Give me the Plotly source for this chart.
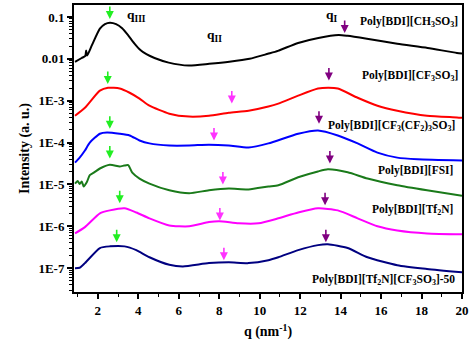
import numpy as np
import plotly.graph_objects as go

# ---- data (q in nm^-1, log10 intensity) ----
q_ch3 = [0.87, 1.2, 1.38, 1.42, 1.47, 1.7, 2.1, 2.35, 2.6, 2.9, 3.2, 3.5, 3.8, 4.1, 4.4, 4.8, 5.5, 6.5, 7.5, 8.5, 9.5, 10.4, 10.9, 11.9, 12.9, 13.9, 14.35, 15.3, 16.8, 18.3, 19.75, 20.0]
li_ch3 = [-2.07, -1.98, -1.93, -1.80, -1.92, -1.68, -1.28, -1.17, -1.136, -1.17, -1.27, -1.44, -1.63, -1.79, -1.89, -1.98, -2.09, -2.16, -2.12, -2.07, -2.00, -1.88, -1.81, -1.62, -1.50, -1.43, -1.45, -1.52, -1.64, -1.74, -1.86, -1.87]

q_cf3 = [0.87, 1.36, 2.1, 2.5, 3.08, 3.57, 4.06, 4.55, 5.53, 6.51, 7.49, 8.47, 9.45, 10.43, 10.92, 11.9, 12.88, 13.4, 13.86, 14.84, 15.82, 16.8, 18.27, 19.75, 20.0]
li_cf3 = [-3.36, -3.17, -2.76, -2.69, -2.71, -2.81, -2.95, -3.12, -3.31, -3.38, -3.36, -3.29, -3.24, -3.14, -3.07, -2.88, -2.71, -2.69, -2.71, -2.93, -3.12, -3.24, -3.36, -3.40, -3.41]

q_cf3cf2 = [0.87, 1.1, 1.36, 1.6, 2.1, 2.45, 3.08, 3.57, 4.06, 4.55, 5.53, 6.51, 7.49, 8.47, 9.45, 10.43, 11.9, 12.88, 13.86, 14.84, 15.82, 16.8, 17.8, 20.0]
li_cf3cf2 = [-4.48, -4.36, -4.19, -4.0, -3.79, -3.76, -3.79, -3.83, -3.95, -4.02, -4.07, -4.07, -4.05, -4.07, -4.12, -4.02, -3.79, -3.71, -3.83, -4.02, -4.24, -4.36, -4.40, -4.43]

q_fsi = [0.87, 1.0, 1.1, 1.2, 1.3, 1.45, 1.6, 1.8, 2.1, 2.59, 3.08, 3.3, 3.5, 3.7, 4.06, 4.55, 5.53, 6.51, 7.49, 8.47, 9.45, 10.43, 10.92, 11.9, 12.88, 13.37, 14.35, 15.33, 16.8, 18.27, 20.0]
li_fsi = [-4.98, -4.92, -4.99, -4.93, -5.05, -4.95, -4.78, -4.72, -4.62, -4.53, -4.57, -4.55, -4.54, -4.72, -4.86, -4.98, -5.14, -5.21, -5.14, -5.10, -5.12, -5.05, -5.02, -4.83, -4.69, -4.64, -4.71, -4.86, -5.02, -5.14, -5.27]

q_tf2n = [0.87, 1.36, 2.1, 2.59, 3.32, 3.9, 4.55, 5.53, 6.51, 7.49, 8.0, 8.96, 9.94, 10.92, 11.9, 12.88, 13.86, 14.84, 15.82, 16.8, 18.27, 20.0]
li_tf2n = [-6.17, -6.02, -5.69, -5.62, -5.57, -5.67, -5.81, -5.98, -6.00, -5.90, -5.88, -5.93, -5.93, -5.81, -5.67, -5.57, -5.62, -5.81, -6.00, -6.10, -6.17, -6.19]

q_mix = [0.87, 1.1, 1.36, 2.1, 2.59, 3.32, 3.9, 4.55, 5.53, 6.2, 7.49, 8.47, 9.45, 10.43, 10.92, 11.9, 12.88, 13.37, 14.35, 15.33, 16.8, 18.27, 20.0]
li_mix = [-7.0, -6.99, -6.88, -6.52, -6.48, -6.48, -6.57, -6.74, -6.92, -6.96, -6.88, -6.86, -6.88, -6.81, -6.74, -6.57, -6.45, -6.43, -6.52, -6.74, -6.93, -7.02, -7.10]

series_names = ["Poly[BDI][CH3SO3]", "Poly[BDI][CF3SO3]", "Poly[BDI][CF3(CF2)3SO3]",
                "Poly[BDI][FSI]", "Poly[BDI][Tf2N]", "Poly[BDI][Tf2N][CF3SO3]-50"]
series_labels = ["Poly[BDI][CH<sub>3</sub>SO<sub>3</sub>]",
                 "Poly[BDI][CF<sub>3</sub>SO<sub>3</sub>]",
                 "Poly[BDI][CF<sub>3</sub>(CF<sub>2</sub>)<sub>3</sub>SO<sub>3</sub>]",
                 "Poly[BDI][FSI]",
                 "Poly[BDI][Tf<sub>2</sub>N]",
                 "Poly[BDI][Tf<sub>2</sub>N][CF<sub>3</sub>SO<sub>3</sub>]-50"]
series_q = [q_ch3, q_cf3, q_cf3cf2, q_fsi, q_tf2n, q_mix]
series_li = [li_ch3, li_cf3, li_cf3cf2, li_fsi, li_tf2n, li_mix]
colors = ["#000000", "#ff0000", "#0000ff", "#1a7a1a", "#ff00ff", "#000080"]

# peak markers (q, log10 I at arrow tip)
qIII_q = [2.59, 2.49, 2.59, 2.59, 3.08, 2.93]
qIII_li = [-1.05, -2.60, -3.67, -4.38, -5.45, -6.38]
qII_q = [8.62, 7.74, 8.18, 8.03, 8.23]
qII_li = [-3.07, -3.95, -5.00, -5.86, -6.81]
qI_q = [14.2, 13.42, 12.93, 13.47, 13.23, 13.27]
qI_li = [-1.38, -2.52, -3.55, -4.50, -5.50, -6.38]

x_ticks = [2, 4, 6, 8, 10, 12, 14, 16, 18, 20]
y_ticks = [1e-7, 1e-6, 1e-5, 1e-4, 1e-3, 1e-2, 1e-1]
y_ticktext = ["1E-7", "1E-6", "1E-5", "1E-4", "1E-3", "0.01", "0.1"]

FONT = "Liberation Serif"

fig = go.Figure()
for name, q, li, c in zip(series_names, series_q, series_li, colors):
    fig.add_trace(go.Scatter(x=q, y=10 ** np.array(li), mode="lines", name=name,
                             line=dict(color=c, width=2, shape="spline", smoothing=0.6),
                             showlegend=False))

ann = []
def arrows(qs, lis, color):
    for qq, ll in zip(qs, lis):
        ann.append(dict(x=qq, y=ll, xref="x", yref="y", text="", showarrow=True,
                        ax=0, ay=-14, arrowhead=2, arrowsize=1, arrowwidth=1.6,
                        arrowcolor=color, standoff=0))
arrows(qIII_q, qIII_li, "#22ee22")
arrows(qII_q, qII_li, "#ff33ff")
arrows(qI_q, qI_li, "#800080")

label_y = [0.941, 0.751, 0.578, 0.422, 0.284, 0.042]
label_x = [0.994, 0.994, 0.987, 0.981, 0.981, 0.987]
for lab, yy, xx in zip(series_labels, label_y, label_x):
    ann.append(dict(x=xx, y=yy, xref="paper", yref="paper", text="<b>" + lab + "</b>",
                    showarrow=False, xanchor="right", yanchor="middle",
                    font=dict(family=FONT, size=11.5, color="black")))

for txt, xx, yy in [("q<sub>III</sub>", 0.16, 0.965), ("q<sub>II</sub>", 0.362, 0.893), ("q<sub>I</sub>", 0.666, 0.965)]:
    ann.append(dict(x=xx, y=yy, xref="paper", yref="paper", text="<b>" + txt + "</b>",
                    showarrow=False, xanchor="center", yanchor="middle",
                    font=dict(family=FONT, size=13.5, color="black")))

fig.update_layout(
    width=472, height=348,
    margin=dict(l=74, r=9, t=3, b=56),
    paper_bgcolor="white", plot_bgcolor="white",
    font=dict(family=FONT, color="black"),
    annotations=ann,
    xaxis=dict(range=[0.82, 20], tickmode="array", tickvals=x_ticks,
               ticks="outside", ticklen=5, tickwidth=1.5, tickcolor="black",
               showline=True, linecolor="black", linewidth=2, mirror=True,
               showgrid=False, zeroline=False,
               tickfont=dict(family=FONT, size=13, color="black", weight="bold"),
               minor=dict(ticks="outside", ticklen=3, tickwidth=1.2, tickcolor="black", dtick=1, tick0=1, showgrid=False),
               title=dict(text="<b>q (nm<sup>-1</sup>)</b>", font=dict(family=FONT, size=14, color="black"), standoff=10)),
    yaxis=dict(type="log", range=[-7.57, -0.714], tickmode="array", tickvals=y_ticks, ticktext=y_ticktext,
               ticks="outside", ticklen=5, tickwidth=1.5, tickcolor="black",
               showline=True, linecolor="black", linewidth=2, mirror=True,
               showgrid=False, zeroline=False,
               tickfont=dict(family=FONT, size=13, color="black", weight="bold"),
               minor=dict(ticks="outside", ticklen=3, tickwidth=1, tickcolor="black",
                          tickmode="array",
                          tickvals=[m * 10.0 ** e for e in range(-8, 0) for m in range(2, 10)],
                          showgrid=False),
               title=dict(text="<b>Intensity (a. u.)</b>", font=dict(family=FONT, size=14, color="black"), standoff=6)),
)

fig.write_html("out.html")
